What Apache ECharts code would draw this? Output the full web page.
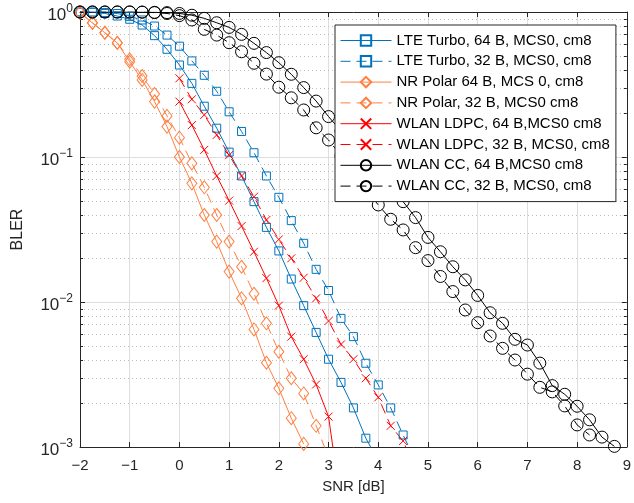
<!doctype html>
<html>
<head>
    <meta charset="utf-8">
    <title>BLER vs SNR</title>
    <style>
        html, body { margin: 0; padding: 0; background: #fff; }
        #main { width: 634px; height: 503px; }
    </style>
</head>
<body>
    <div id="main"></div>
    <script src="https://cdn.jsdelivr.net/npm/echarts/dist/echarts.min.js"></script>
    <script type="text/javascript">
        // SNR grid (dB), 0.25 dB steps
        var snr = [-2, -1.75, -1.5, -1.25, -1, -0.75, -0.5, -0.25, 0, 0.25, 0.5, 0.75, 1, 1.25, 1.5, 1.75,
            2, 2.25, 2.5, 2.75, 3, 3.25, 3.5, 3.75, 4, 4.25, 4.5, 4.75, 5, 5.25, 5.5, 5.75,
            6, 6.25, 6.5, 6.75, 7, 7.25, 7.5, 7.75, 8, 8.25, 8.5, 8.75];
        // LDPC curves start at 0 dB
        var snrLdpc = [0, 0.25, 0.5, 0.75, 1, 1.25, 1.5, 1.75, 2, 2.25, 2.5, 2.75, 3, 3.25, 3.5, 3.75, 4, 4.25, 4.5, 4.75];

        var blerLte64 = [1, 0.995, 0.977, 0.938, 0.891, 0.813, 0.687, 0.553, 0.431, 0.322, 0.224, 0.158, 0.108, 0.074,
            0.0492, 0.0327, 0.0225, 0.0144, 0.00944, 0.00617, 0.00403, 0.00279, 0.00186, 0.00115, 0.0008];
        var blerLte32 = [1, 1, 0.993, 0.977, 0.933, 0.881, 0.8, 0.693, 0.581, 0.46, 0.366, 0.284, 0.205, 0.15, 0.107,
            0.074, 0.0527, 0.0364, 0.0254, 0.0168, 0.012, 0.00771, 0.00577, 0.00378, 0.00268, 0.00186, 0.00121, 0.0008];
        var blerPolar64 = [0.99, 0.839, 0.719, 0.611, 0.454, 0.34, 0.241, 0.162, 0.1, 0.0658, 0.0398, 0.0261, 0.0162,
            0.0106, 0.00647, 0.00381, 0.00254, 0.00158, 0.00105];
        var blerPolar32 = [0.99, 0.843, 0.719, 0.614, 0.472, 0.362, 0.272, 0.192, 0.136, 0.0904, 0.0618, 0.0398, 0.0261,
            0.0175, 0.0114, 0.00713, 0.00454, 0.00298, 0.00234, 0.0014, 0.00085];
        var blerLdpc64 = [0.241, 0.166, 0.112, 0.074, 0.05, 0.0334, 0.0222, 0.0146, 0.00944, 0.00577, 0.00403, 0.0027,
            0.00162, 0.0004];
        var blerLdpc32 = [0.349, 0.25, 0.195, 0.142, 0.103, 0.074, 0.0532, 0.0368, 0.027, 0.02, 0.0147, 0.0106, 0.0074,
            0.0051, 0.00403, 0.00298, 0.0022, 0.0014, 0.0011, 0.0007];
        var blerCc64 = [1, 1, 1, 1, 1, 0.998, 0.995, 0.99, 0.977, 0.95, 0.904, 0.843, 0.783, 0.701, 0.608, 0.525, 0.447,
            0.372, 0.301, 0.243, 0.19, 0.151, 0.12, 0.0955, 0.0776, 0.0617, 0.0492, 0.0382, 0.0279, 0.0222, 0.0175,
            0.0142, 0.0111, 0.00843, 0.00713, 0.00553, 0.00505, 0.00379, 0.00265, 0.00231, 0.00191, 0.00154, 0.00117, 0.00101];
        var blerCc32 = [1, 1, 1, 1, 1, 0.998, 0.99, 0.977, 0.944, 0.881, 0.759, 0.693, 0.614, 0.532, 0.443, 0.373, 0.303,
            0.256, 0.211, 0.159, 0.131, 0.102, 0.0794, 0.0603, 0.0467, 0.0372, 0.0314, 0.0237, 0.0193, 0.015, 0.0118,
            0.00881, 0.0072, 0.00583, 0.00479, 0.00398, 0.00318, 0.00258, 0.0024, 0.00192, 0.00142, 0.00121];

        var names = ['LTE Turbo, 64 B, MCS0, cm8', 'LTE Turbo, 32 B, MCS0, cm8', 'NR Polar 64 B, MCS 0, cm8',
            'NR Polar, 32 B, MCS0 cm8', 'WLAN LDPC, 64 B,MCS0 cm8', 'WLAN LDPC, 32 B, MCS0, cm8',
            'WLAN CC, 64 B,MCS0 cm8', 'WLAN CC, 32 B, MCS0, cm8'];

        // minor log grid values (2..9 x decade)
        var minorMultipliers = [2, 3, 4, 5, 6, 7, 8, 9];
        var decades = [0.001, 0.01, 0.1];

        var xMin = -2, xMax = 9;
        var font = '"Liberation Sans", Arial, sans-serif';
        var axisColor = '#262626';
        var cBlue = '#0072bd', cOrange = '#ff7f40', cRed = '#ff0000', cBlack = '#000000';
        var xMark = 'path://M0,0L10,10M10,0L0,10';

        function pairs(xs, ys) {
            return ys.map(function (v, i) { return [xs[i], v]; });
        }

        function makeLine(name, xs, ys, color, dashed, symbol, size) {
            return {
                name: name,
                type: 'line',
                data: pairs(xs, ys),
                symbol: symbol,
                symbolSize: size,
                showAllSymbol: true,
                clip: true,
                z: 3,
                lineStyle: { color: color, width: 1, type: dashed ? [10, 6] : 'solid' },
                itemStyle: { color: 'rgba(0,0,0,0)', borderColor: color, borderWidth: 1 },
                emphasis: { disabled: true }
            };
        }

        var minorData = [];
        decades.forEach(function (d) {
            minorMultipliers.forEach(function (m) { minorData.push([xMin, m * d]); });
        });

        // dotted minor grid + inner minor ticks on both y sides
        function renderMinor(params, api) {
            var cs = params.coordSys;
            var y = Math.round(api.coord([api.value(0), api.value(1)])[1]) + 0.5;
            return {
                type: 'group',
                children: [
                    { type: 'line', shape: { x1: cs.x, y1: y, x2: cs.x + cs.width, y2: y },
                      style: { stroke: '#bdbdbd', lineWidth: 1, lineDash: [1, 3] } },
                    { type: 'line', shape: { x1: cs.x, y1: y, x2: cs.x + 3, y2: y },
                      style: { stroke: axisColor, lineWidth: 1 } },
                    { type: 'line', shape: { x1: cs.x + cs.width - 3, y1: y, x2: cs.x + cs.width, y2: y },
                      style: { stroke: axisColor, lineWidth: 1 } }
                ]
            };
        }

        function yLabel(v) {
            var e = Math.round(Math.log10(v));
            return '{b|10}{s|' + (e < 0 ? '\u2212' + (-e) : e) + '}';
        }

        var myChart = echarts.init(document.getElementById('main'));
        var option = {
            animation: false,
            textStyle: { fontFamily: font },
            grid: { left: 80, right: 4, top: 12, bottom: 56, containLabel: false },
            legend: {
                data: names,
                orient: 'vertical',
                left: 335,
                top: 25,
                itemWidth: 51,
                itemHeight: 13,
                itemGap: 5.8,
                padding: [8, 6, 8, 5],
                backgroundColor: '#ffffff',
                borderColor: axisColor,
                borderWidth: 1,
                borderRadius: 0,
                lineStyle: { width: 1 },
                textStyle: { fontSize: 15, color: '#000', fontFamily: font },
                z: 10
            },
            xAxis: [
                {
                    type: 'value', min: xMin, max: xMax, interval: 1,
                    name: 'SNR [dB]', nameLocation: 'middle', nameGap: 32,
                    nameTextStyle: { fontSize: 15, color: axisColor, fontFamily: font },
                    axisLine: { show: true, onZero: false, lineStyle: { color: axisColor } },
                    axisTick: { show: true, inside: true, length: 5, lineStyle: { color: axisColor } },
                    axisLabel: {
                        fontSize: 15, color: axisColor, margin: 11, fontFamily: font,
                        formatter: function (v) { return v < 0 ? '\u2212' + (-v) : String(v); }
                    },
                    splitLine: { show: true, lineStyle: { color: '#dedede' } }
                },
                {
                    type: 'value', min: xMin, max: xMax, interval: 1, position: 'top',
                    axisLine: { show: true, onZero: false, lineStyle: { color: axisColor } },
                    axisTick: { show: true, inside: true, length: 5, lineStyle: { color: axisColor } },
                    axisLabel: { show: false },
                    splitLine: { show: false }
                }
            ],
            yAxis: [
                {
                    type: 'log', logBase: 10, min: 0.001, max: 1,
                    name: 'BLER', nameLocation: 'middle', nameGap: 54,
                    nameTextStyle: { fontSize: 16, color: axisColor, fontFamily: font },
                    axisLine: { show: true, onZero: false, lineStyle: { color: axisColor } },
                    axisTick: { show: true, inside: true, length: 5, lineStyle: { color: axisColor } },
                    axisLabel: {
                        margin: 7, fontSize: 17, color: axisColor, formatter: yLabel,
                        rich: {
                            b: { fontSize: 17, color: axisColor, fontFamily: font, padding: [7, 0, 0, 0] },
                            s: { fontSize: 12, color: axisColor, fontFamily: font, padding: [0, 0, 7, 0] }
                        }
                    },
                    splitLine: { show: true, lineStyle: { color: '#dedede' } }
                },
                {
                    type: 'log', logBase: 10, min: 0.001, max: 1, position: 'right',
                    axisLine: { show: true, onZero: false, lineStyle: { color: axisColor } },
                    axisTick: { show: true, inside: true, length: 5, lineStyle: { color: axisColor } },
                    axisLabel: { show: false },
                    splitLine: { show: false }
                }
            ],
            series: [
                {
                    name: 'minor', type: 'custom', renderItem: renderMinor, data: minorData,
                    encode: { x: 0, y: 1 }, silent: true, z: 1
                },
                makeLine(names[0], snr, blerLte64, cBlue, false, 'rect', 8),
                makeLine(names[1], snr, blerLte32, cBlue, true, 'rect', 8),
                makeLine(names[2], snr, blerPolar64, cOrange, false, 'diamond', [10, 13]),
                makeLine(names[3], snr, blerPolar32, cOrange, true, 'diamond', [10, 13]),
                makeLine(names[4], snrLdpc, blerLdpc64, cRed, false, xMark, 8),
                makeLine(names[5], snrLdpc, blerLdpc32, cRed, true, xMark, 8),
                makeLine(names[6], snr, blerCc64, cBlack, false, 'circle', 12),
                makeLine(names[7], snr, blerCc32, cBlack, true, 'circle', 12)
            ]
        };
        myChart.setOption(option);
    </script>
</body>
</html>
